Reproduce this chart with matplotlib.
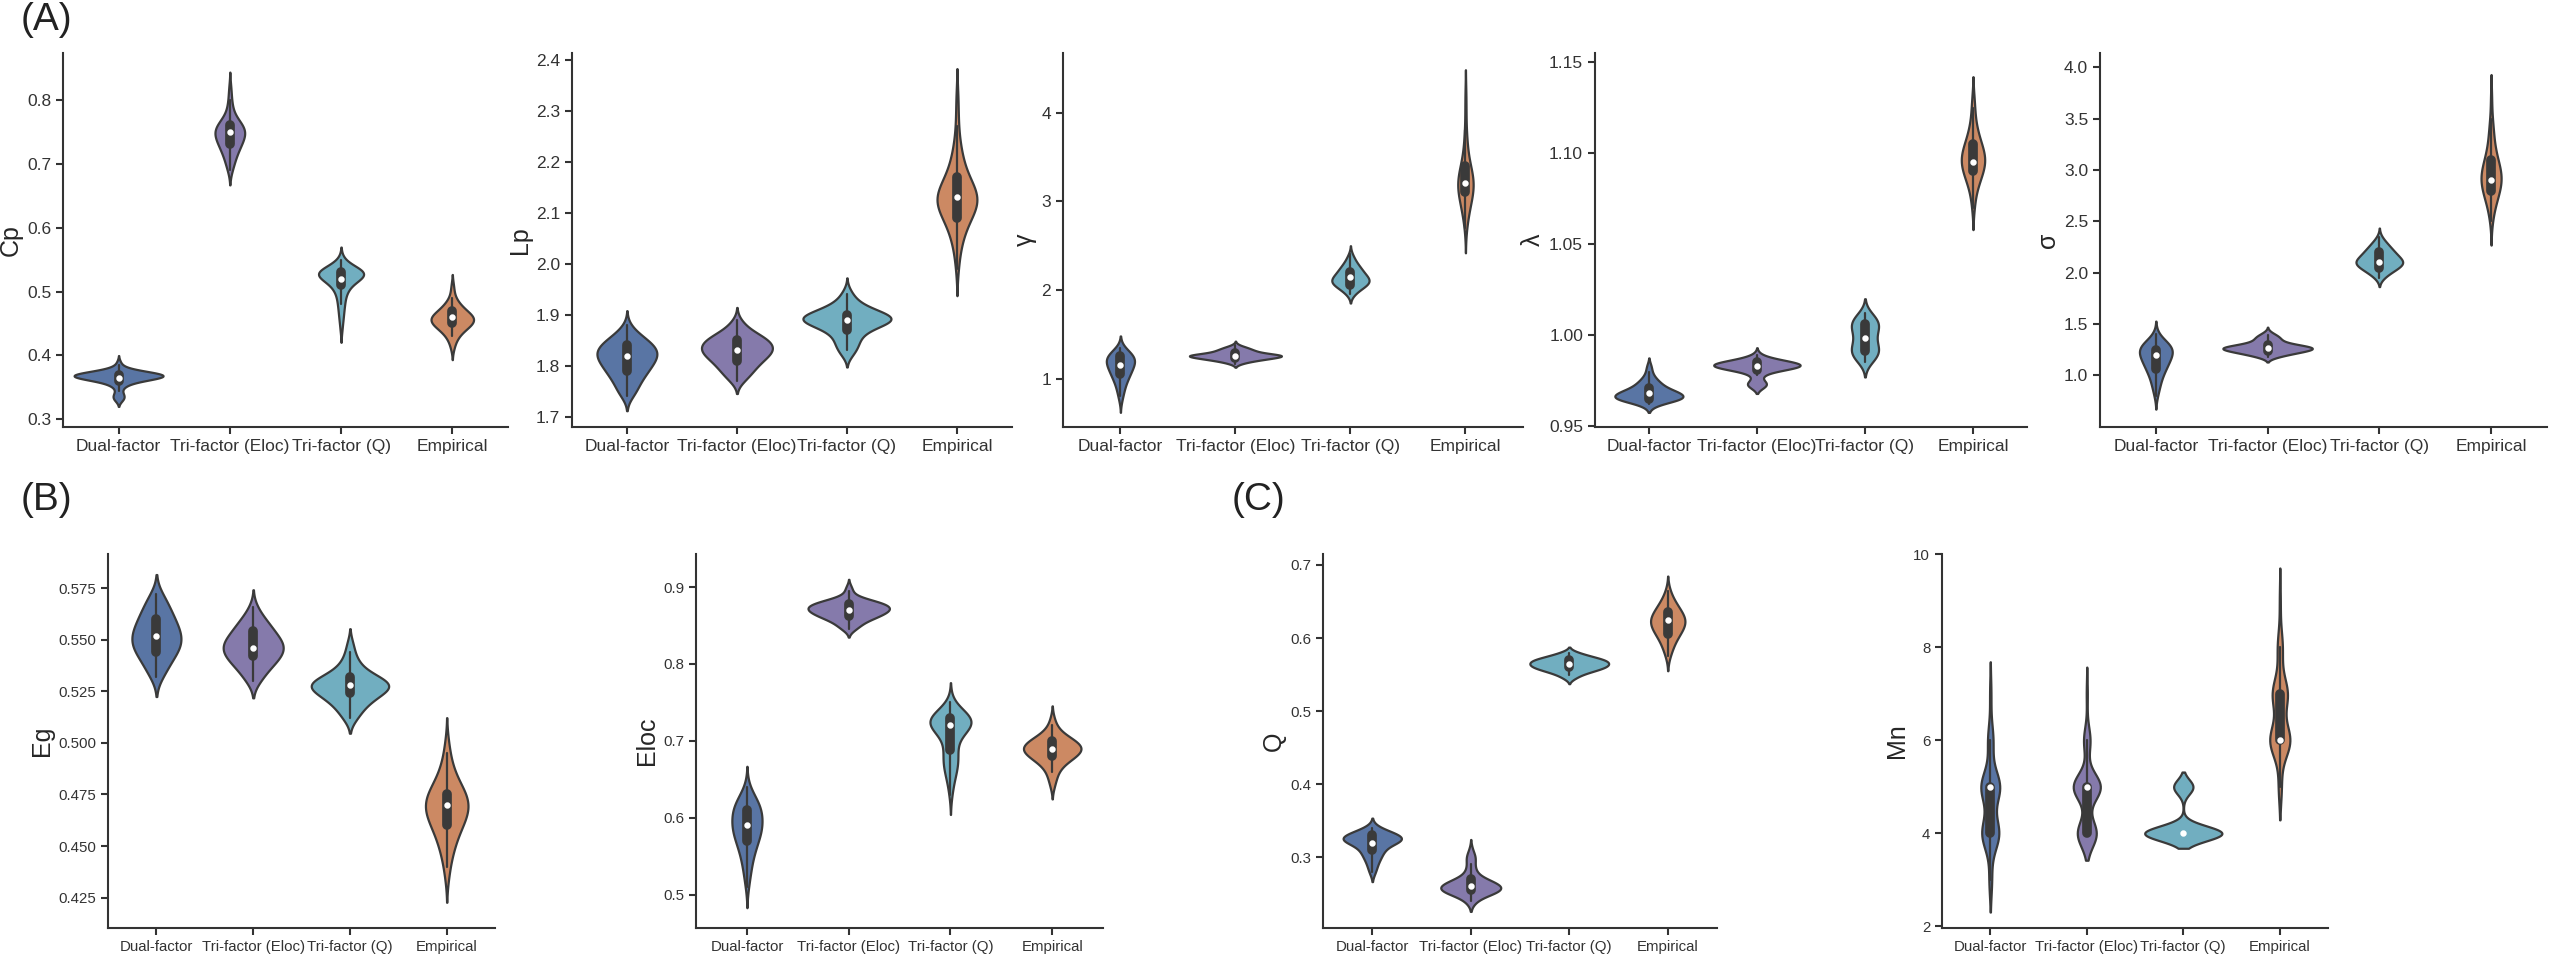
import numpy as np
import pandas as pd
import matplotlib
matplotlib.use("Agg")
import matplotlib.pyplot as plt
import seaborn as sns

# categories and colours
groups = ["Dual-factor", "Tri-factor (Eloc)", "Tri-factor (Q)", "Empirical"]
deep = sns.color_palette("deep")
pal = [deep[0], deep[4], deep[9], deep[1]]

cp_vals = [[0.33, 0.335, 0.34, 0.345, 0.35, 0.355, 0.36, 0.365, 0.37, 0.375, 0.38, 0.385, 0.39],
           [0.69, 0.70, 0.71, 0.72, 0.73, 0.74, 0.75, 0.76, 0.77, 0.78, 0.79, 0.80, 0.81, 0.82],
           [0.44, 0.45, 0.46, 0.47, 0.48, 0.49, 0.50, 0.51, 0.52, 0.53, 0.54, 0.55],
           [0.41, 0.42, 0.43, 0.44, 0.45, 0.46, 0.47, 0.48, 0.49, 0.50, 0.51]]
cp_counts = [[2, 3, 2, 1, 2, 4, 8, 20, 24, 10, 3, 1, 1],
             [2, 3, 4, 6, 8, 10, 12, 10, 5, 2, 2, 1, 1, 1],
             [1, 1, 2, 2, 3, 3, 5, 7, 16, 26, 8, 2],
             [1, 2, 4, 8, 14, 15, 9, 5, 2, 1, 1]]

lp_vals = [[1.74, 1.75, 1.76, 1.77, 1.78, 1.79, 1.80, 1.81, 1.82, 1.83, 1.84, 1.85, 1.86, 1.87, 1.88],
           [1.77, 1.78, 1.79, 1.80, 1.81, 1.82, 1.83, 1.84, 1.85, 1.86, 1.87, 1.88, 1.89],
           [1.82, 1.83, 1.84, 1.85, 1.86, 1.87, 1.88, 1.89, 1.90, 1.91, 1.92, 1.93, 1.94, 1.95],
           [1.99, 2.01, 2.03, 2.05, 2.07, 2.09, 2.11, 2.13, 2.15, 2.17, 2.19, 2.21, 2.23, 2.25, 2.27, 2.30, 2.33]]
lp_counts = [[2, 3, 3, 4, 5, 6, 7, 8, 9, 9, 8, 6, 4, 2, 1],
             [2, 3, 4, 5, 6, 8, 9, 9, 8, 6, 3, 2, 1],
             [2, 3, 4, 4, 5, 7, 12, 18, 15, 9, 5, 3, 2, 1],
             [1, 1, 2, 3, 5, 7, 12, 13, 10, 6, 4, 3, 2, 1, 1, 1, 1]]

gam_vals = [[0.75, 0.8, 0.85, 0.9, 0.95, 1.0, 1.05, 1.1, 1.15, 1.2, 1.25, 1.3, 1.35],
            [1.17, 1.2, 1.23, 1.26, 1.29, 1.32, 1.35, 1.38],
            [1.95, 2.0, 2.05, 2.1, 2.15, 2.2, 2.25, 2.3, 2.35, 2.4],
            [2.7, 2.8, 2.9, 3.0, 3.1, 3.2, 3.3, 3.4, 3.5, 3.6, 3.7, 3.8, 4.0, 4.2]]
gam_counts = [[1, 1, 2, 2, 3, 4, 5, 6, 7, 8, 8, 5, 2],
              [2, 6, 12, 18, 8, 6, 4, 1],
              [2, 4, 8, 10, 8, 6, 5, 3, 2, 1],
              [1, 2, 3, 5, 7, 8, 7, 4, 2, 2, 1, 1, 1, 1]]

lam_vals = [[0.962, 0.965, 0.968, 0.971, 0.974, 0.977, 0.980, 0.983],
            [0.972, 0.974, 0.978, 0.981, 0.983, 0.985, 0.987, 0.989],
            [0.985, 0.988, 0.991, 0.994, 0.997, 1.0, 1.003, 1.006, 1.009, 1.012],
            [1.07, 1.075, 1.08, 1.085, 1.09, 1.095, 1.10, 1.105, 1.11, 1.115, 1.12, 1.125, 1.13]]
lam_counts = [[3, 14, 12, 6, 4, 2, 1, 1],
              [3, 3, 2, 6, 14, 10, 3, 1],
              [2, 4, 5, 4, 3, 3, 4, 5, 4, 2],
              [1, 1, 2, 4, 6, 8, 7, 5, 3, 2, 1, 1, 1]]

sig_vals = [[0.8, 0.85, 0.9, 0.95, 1.0, 1.05, 1.1, 1.15, 1.2, 1.25, 1.3, 1.35, 1.4],
            [1.18, 1.21, 1.24, 1.27, 1.30, 1.33, 1.36, 1.39, 1.42],
            [1.95, 2.0, 2.05, 2.1, 2.15, 2.2, 2.25, 2.3, 2.35],
            [2.5, 2.6, 2.7, 2.8, 2.9, 3.0, 3.1, 3.2, 3.3, 3.4, 3.5, 3.7]]
sig_counts = [[1, 1, 2, 2, 3, 4, 5, 6, 7, 8, 7, 3, 1],
              [3, 7, 12, 16, 8, 4, 4, 3, 1],
              [2, 5, 9, 12, 9, 7, 5, 3, 1],
              [1, 2, 4, 7, 9, 8, 5, 3, 2, 2, 1, 1]]

eg_vals = [[0.532, 0.536, 0.540, 0.544, 0.548, 0.552, 0.556, 0.560, 0.564, 0.568, 0.572],
           [0.530, 0.534, 0.538, 0.542, 0.546, 0.550, 0.554, 0.558, 0.562, 0.566],
           [0.512, 0.516, 0.520, 0.524, 0.528, 0.532, 0.536, 0.540, 0.544, 0.548],
           [0.435, 0.440, 0.445, 0.450, 0.455, 0.460, 0.465, 0.470, 0.475, 0.480, 0.485, 0.490, 0.495, 0.500]]
eg_counts = [[2, 3, 4, 6, 7, 7, 6, 5, 4, 3, 2],
             [2, 3, 5, 7, 8, 7, 5, 4, 2, 1],
             [2, 3, 5, 8, 12, 7, 3, 2, 1, 1],
             [1, 1, 2, 3, 4, 6, 8, 9, 8, 5, 3, 2, 1, 1]]

eloc_vals = [[0.51, 0.52, 0.53, 0.54, 0.55, 0.56, 0.57, 0.58, 0.59, 0.60, 0.61, 0.62, 0.63, 0.64],
             [0.845, 0.85, 0.855, 0.86, 0.865, 0.87, 0.875, 0.88, 0.885, 0.89, 0.895, 0.90],
             [0.63, 0.64, 0.65, 0.66, 0.67, 0.68, 0.69, 0.70, 0.71, 0.72, 0.73, 0.74, 0.75],
             [0.64, 0.65, 0.66, 0.67, 0.68, 0.69, 0.70, 0.71, 0.72, 0.73]]
eloc_counts = [[1, 1, 2, 2, 3, 4, 5, 7, 7, 7, 7, 6, 3, 1],
               [2, 3, 4, 7, 9, 11, 11, 9, 4, 1, 1, 1],
               [1, 1, 2, 3, 4, 4, 3, 3, 5, 14, 14, 5, 1],
               [1, 2, 3, 6, 12, 16, 12, 5, 2, 1]]

q_vals = [[0.28, 0.29, 0.30, 0.31, 0.32, 0.325, 0.33, 0.335, 0.34],
          [0.24, 0.25, 0.255, 0.26, 0.265, 0.27, 0.28, 0.29, 0.30, 0.31],
          [0.545, 0.55, 0.555, 0.56, 0.565, 0.57, 0.575, 0.58],
          [0.575, 0.585, 0.595, 0.605, 0.615, 0.625, 0.635, 0.645, 0.655, 0.665]]
q_counts = [[2, 3, 5, 7, 10, 10, 9, 5, 2],
            [3, 8, 10, 10, 7, 5, 3, 2, 3, 1],
            [2, 4, 8, 12, 13, 12, 7, 3],
            [1, 2, 3, 5, 7, 8, 6, 4, 2, 1]]

mn_vals = [[3, 4, 5, 6, 7],
           [4, 5, 6, 7],
           [4, 5],
           [5, 6, 7, 8, 9]]
mn_counts = [[6, 38, 42, 12, 3],
             [35, 50, 12, 2],
             [80, 20],
             [6, 40, 30, 10, 2]]

sns.set_theme(style="ticks")
plt.rcParams["font.family"] = ["Liberation Sans", "DejaVu Sans"]
plt.rcParams["axes.edgecolor"] = "#333333"
plt.rcParams["axes.linewidth"] = 1.5
plt.rcParams["xtick.color"] = "#333333"
plt.rcParams["ytick.color"] = "#333333"
plt.rcParams["xtick.major.width"] = 1.5
plt.rcParams["ytick.major.width"] = 1.5


def violins(ax, vals, counts, ylabel, ylim, yticks, fs=12.5):
    rows = []
    for g, v, c in zip(groups, vals, counts):
        for x in np.repeat(v, c):
            rows.append((g, x))
    df = pd.DataFrame(rows, columns=["group", "value"])
    sns.violinplot(data=df, x="group", y="value", hue="group", order=groups,
                   hue_order=groups, palette=pal, legend=False, ax=ax,
                   density_norm="area", common_norm=True,
                   linewidth=1.6, linecolor="#3a3a3a", inner="box",
                   inner_kws=dict(box_width=7, whis_width=1.6, marker="o",
                                  markersize=3.2))
    ax.set_xlim(-0.5, 3.5)
    ax.set_ylim(*ylim)
    ax.set_yticks(yticks)
    ax.set_xlabel("")
    ax.set_ylabel(ylabel, fontsize=18, labelpad=3)
    ax.tick_params(labelsize=fs, length=5)
    sns.despine(ax=ax)


fig = plt.figure(figsize=(25.6, 9.65), dpi=100)

ax1 = fig.add_axes([0.0246, 0.5575, 0.1738, 0.3875])
violins(ax1, cp_vals, cp_counts, "Cp", (0.288, 0.873), [0.3, 0.4, 0.5, 0.6, 0.7, 0.8])

ax2 = fig.add_axes([0.2234, 0.5575, 0.1719, 0.3875])
violins(ax2, lp_vals, lp_counts, "Lp", (1.68, 2.413), [1.7, 1.8, 1.9, 2.0, 2.1, 2.2, 2.3, 2.4])

ax3 = fig.add_axes([0.4152, 0.5575, 0.1797, 0.3875])
violins(ax3, gam_vals, gam_counts, "γ", (0.454, 4.67), [1, 2, 3, 4])

ax4 = fig.add_axes([0.6230, 0.5575, 0.1688, 0.3875])
violins(ax4, lam_vals, lam_counts, "λ", (0.9495, 1.155), [0.95, 1.00, 1.05, 1.10, 1.15])

ax5 = fig.add_axes([0.8203, 0.5575, 0.1746, 0.3875])
violins(ax5, sig_vals, sig_counts, "σ", (0.497, 4.14), [1.0, 1.5, 2.0, 2.5, 3.0, 3.5, 4.0])

ax6 = fig.add_axes([0.0422, 0.0383, 0.1512, 0.3876])
violins(ax6, eg_vals, eg_counts, "Eg", (0.4103, 0.5915), [0.425, 0.450, 0.475, 0.500, 0.525, 0.550, 0.575], fs=10.8)

ax7 = fig.add_axes([0.2719, 0.0383, 0.1590, 0.3876])
violins(ax7, eloc_vals, eloc_counts, "Eloc", (0.4566, 0.943), [0.5, 0.6, 0.7, 0.8, 0.9], fs=10.8)

ax8 = fig.add_axes([0.5168, 0.0383, 0.1539, 0.3876])
violins(ax8, q_vals, q_counts, "Q", (0.203, 0.715), [0.3, 0.4, 0.5, 0.6, 0.7], fs=10.8)

ax9 = fig.add_axes([0.7586, 0.0383, 0.1508, 0.3876])
violins(ax9, mn_vals, mn_counts, "Mn", (1.964, 10.01), [2, 4, 6, 8, 10], fs=10.8)

fig.text(0.008, 0.998, "(A)", fontsize=28, va="top", color="#222222")
fig.text(0.008, 0.500, "(B)", fontsize=28, va="top", color="#222222")
fig.text(0.481, 0.500, "(C)", fontsize=28, va="top", color="#222222")

fig.savefig("out.png", dpi=100, facecolor="white")
